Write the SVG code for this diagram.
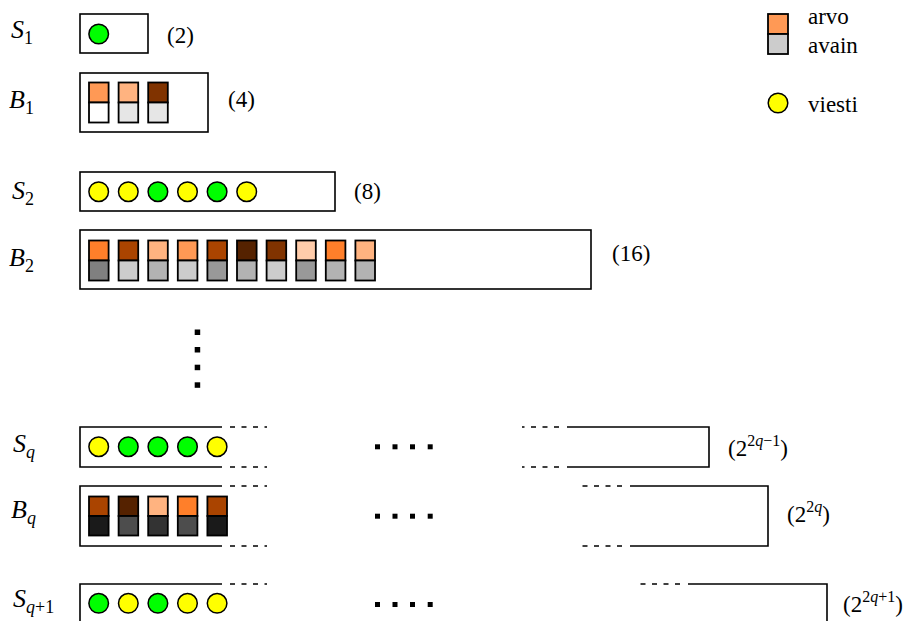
<svg xmlns="http://www.w3.org/2000/svg" width="920" height="621" viewBox="0 0 920 621">
<style>
.box{fill:none;stroke:#000;stroke-width:1.6}
.dash{fill:none;stroke:#000;stroke-width:1.4;stroke-dasharray:5 6.5}
.sq{stroke:#000;stroke-width:1.8}
.c{stroke:#000;stroke-width:1.5}
.g{fill:#00ff00}
.y{fill:#ffff00}
.lbl{font-family:"Liberation Serif",serif;font-style:italic;font-size:26px;fill:#000}
.sub{font-style:normal;font-size:18px}
.it{font-style:italic}
.num{font-family:"Liberation Serif",serif;font-size:23px;fill:#000}
.sup{font-size:16px}
.dot{fill:#000}
</style>
<rect width="920" height="621" fill="#fff"/>

<g id="legend">
<rect class="sq" x="768" y="14" width="20" height="20" fill="#ff9955"/>
<rect class="sq" x="768" y="34" width="20" height="20" fill="#cccccc"/>
<text class="num" x="808" y="24">arvo</text>
<text class="num" x="808" y="53">avain</text>
<circle class="c y" cx="778" cy="103" r="9.8"/>
<text class="num" x="808" y="112">viesti</text>
</g>

<g id="S1">
<text class="lbl" x="11" y="38">S<tspan class="sub" dy="6">1</tspan></text>
<rect class="box" x="80" y="14" width="68" height="39"/>
<circle class="c g" cx="98.7" cy="34" r="9.8"/>
<text class="num" x="167" y="43">(2)</text>
</g>

<g id="B1">
<text class="lbl" x="9" y="108">B<tspan class="sub" dy="6">1</tspan></text>
<rect class="box" x="80" y="73" width="128" height="59"/>
<rect class="sq" x="89" y="82.5" width="19.6" height="20" fill="#ff9955"/>
<rect class="sq" x="89" y="102.5" width="19.6" height="20" fill="#ffffff"/>
<rect class="sq" x="118.6" y="82.5" width="19.6" height="20" fill="#ffb380"/>
<rect class="sq" x="118.6" y="102.5" width="19.6" height="20" fill="#e6e6e6"/>
<rect class="sq" x="148.2" y="82.5" width="19.6" height="20" fill="#803300"/>
<rect class="sq" x="148.2" y="102.5" width="19.6" height="20" fill="#e6e6e6"/>
<text class="num" x="228" y="107">(4)</text>
</g>

<g id="S2">
<text class="lbl" x="12" y="199">S<tspan class="sub" dy="6">2</tspan></text>
<rect class="box" x="80" y="172" width="255" height="39"/>
<circle class="c y" cx="98.7" cy="191.7" r="9.8"/>
<circle class="c y" cx="128.3" cy="191.7" r="9.8"/>
<circle class="c g" cx="157.9" cy="191.7" r="9.8"/>
<circle class="c y" cx="187.5" cy="191.7" r="9.8"/>
<circle class="c g" cx="217.1" cy="191.7" r="9.8"/>
<circle class="c y" cx="246.7" cy="191.7" r="9.8"/>
<text class="num" x="354" y="199">(8)</text>
</g>

<g id="B2">
<text class="lbl" x="9" y="266">B<tspan class="sub" dy="6">2</tspan></text>
<rect class="box" x="80" y="230" width="511" height="59"/>
<rect class="sq" x="89" y="240.5" width="19.6" height="20" fill="#ff7f2a"/>
<rect class="sq" x="89" y="260.5" width="19.6" height="20" fill="#808080"/>
<rect class="sq" x="118.6" y="240.5" width="19.6" height="20" fill="#aa4400"/>
<rect class="sq" x="118.6" y="260.5" width="19.6" height="20" fill="#cccccc"/>
<rect class="sq" x="148.2" y="240.5" width="19.6" height="20" fill="#ffb380"/>
<rect class="sq" x="148.2" y="260.5" width="19.6" height="20" fill="#b3b3b3"/>
<rect class="sq" x="177.8" y="240.5" width="19.6" height="20" fill="#ff9955"/>
<rect class="sq" x="177.8" y="260.5" width="19.6" height="20" fill="#cccccc"/>
<rect class="sq" x="207.4" y="240.5" width="19.6" height="20" fill="#aa4400"/>
<rect class="sq" x="207.4" y="260.5" width="19.6" height="20" fill="#999999"/>
<rect class="sq" x="237" y="240.5" width="19.6" height="20" fill="#552200"/>
<rect class="sq" x="237" y="260.5" width="19.6" height="20" fill="#b3b3b3"/>
<rect class="sq" x="266.6" y="240.5" width="19.6" height="20" fill="#803300"/>
<rect class="sq" x="266.6" y="260.5" width="19.6" height="20" fill="#cccccc"/>
<rect class="sq" x="296.2" y="240.5" width="19.6" height="20" fill="#ffccaa"/>
<rect class="sq" x="296.2" y="260.5" width="19.6" height="20" fill="#999999"/>
<rect class="sq" x="325.8" y="240.5" width="19.6" height="20" fill="#ff7f2a"/>
<rect class="sq" x="325.8" y="260.5" width="19.6" height="20" fill="#b3b3b3"/>
<rect class="sq" x="355.4" y="240.5" width="19.6" height="20" fill="#ffb380"/>
<rect class="sq" x="355.4" y="260.5" width="19.6" height="20" fill="#b3b3b3"/>
<text class="num" x="612" y="261">(16)</text>
</g>

<g id="vdots">
<rect class="dot" x="194.7" y="329.5" width="5.5" height="5.5"/>
<rect class="dot" x="194.7" y="347" width="5.5" height="5.5"/>
<rect class="dot" x="194.7" y="364.7" width="5.5" height="5.5"/>
<rect class="dot" x="194.7" y="382.3" width="5.5" height="5.5"/>
</g>

<g id="Sq">
<text class="lbl" x="13" y="452">S<tspan class="sub it" dy="6">q</tspan></text>
<path class="box" d="M222 427 H80 V467 H222"/>
<path class="dash" d="M230 427 H267 M230 467 H267"/>
<circle class="c y" cx="98.7" cy="446.7" r="9.8"/>
<circle class="c g" cx="128.3" cy="446.7" r="9.8"/>
<circle class="c g" cx="157.9" cy="446.7" r="9.8"/>
<circle class="c g" cx="187.5" cy="446.7" r="9.8"/>
<circle class="c y" cx="217.1" cy="446.7" r="9.8"/>
<rect class="dot" x="375" y="444.3" width="5" height="5"/>
<rect class="dot" x="392.5" y="444.3" width="5" height="5"/>
<rect class="dot" x="410" y="444.3" width="5" height="5"/>
<rect class="dot" x="427.7" y="444.3" width="5" height="5"/>
<path class="dash" d="M559 427 H522 M559 467 H522"/>
<path class="box" d="M567 427 H709 V467 H567"/>
<text class="num" x="728" y="456">(2<tspan class="sup" dy="-10">2<tspan class="it">q</tspan>−1</tspan><tspan dy="10">)</tspan></text>
</g>

<g id="Bq">
<text class="lbl" x="11" y="518">B<tspan class="sub it" dy="6">q</tspan></text>
<path class="box" d="M222 486 H80 V546 H222"/>
<path class="dash" d="M230 486 H267 M230 546 H267"/>
<rect class="sq" x="89" y="496.5" width="19.6" height="19.5" fill="#aa4400"/>
<rect class="sq" x="89" y="516" width="19.6" height="19.5" fill="#1a1a1a"/>
<rect class="sq" x="118.6" y="496.5" width="19.6" height="19.5" fill="#552200"/>
<rect class="sq" x="118.6" y="516" width="19.6" height="19.5" fill="#4d4d4d"/>
<rect class="sq" x="148.2" y="496.5" width="19.6" height="19.5" fill="#ffb380"/>
<rect class="sq" x="148.2" y="516" width="19.6" height="19.5" fill="#333333"/>
<rect class="sq" x="177.8" y="496.5" width="19.6" height="19.5" fill="#ff7f2a"/>
<rect class="sq" x="177.8" y="516" width="19.6" height="19.5" fill="#4d4d4d"/>
<rect class="sq" x="207.4" y="496.5" width="19.6" height="19.5" fill="#aa4400"/>
<rect class="sq" x="207.4" y="516" width="19.6" height="19.5" fill="#1a1a1a"/>
<rect class="dot" x="375" y="513.7" width="5" height="5"/>
<rect class="dot" x="392.5" y="513.7" width="5" height="5"/>
<rect class="dot" x="410" y="513.7" width="5" height="5"/>
<rect class="dot" x="427.7" y="513.7" width="5" height="5"/>
<path class="dash" d="M622 486 H581 M622 546 H581"/>
<path class="box" d="M630 486 H768 V546 H630"/>
<text class="num" x="787" y="522">(2<tspan class="sup" dy="-10">2<tspan class="it">q</tspan></tspan><tspan dy="10">)</tspan></text>
</g>

<g id="Sq1">
<text class="lbl" x="13" y="607">S<tspan class="sub" dy="6"><tspan class="it">q</tspan>+1</tspan></text>
<path class="box" d="M222 584 H80 V630"/>
<path class="dash" d="M230 584 H267"/>
<circle class="c g" cx="98.7" cy="603.3" r="9.8"/>
<circle class="c y" cx="128.3" cy="603.3" r="9.8"/>
<circle class="c g" cx="157.9" cy="603.3" r="9.8"/>
<circle class="c y" cx="187.5" cy="603.3" r="9.8"/>
<circle class="c y" cx="217.1" cy="603.3" r="9.8"/>
<rect class="dot" x="375" y="602" width="5" height="5"/>
<rect class="dot" x="392.5" y="602" width="5" height="5"/>
<rect class="dot" x="410" y="602" width="5" height="5"/>
<rect class="dot" x="427.7" y="602" width="5" height="5"/>
<path class="dash" d="M680 584 H640"/>
<path class="box" d="M688 584 H827 V630"/>
<text class="num" x="843" y="612">(2<tspan class="sup" dy="-10">2<tspan class="it">q</tspan>+1</tspan><tspan dy="10">)</tspan></text>
</g>
</svg>
